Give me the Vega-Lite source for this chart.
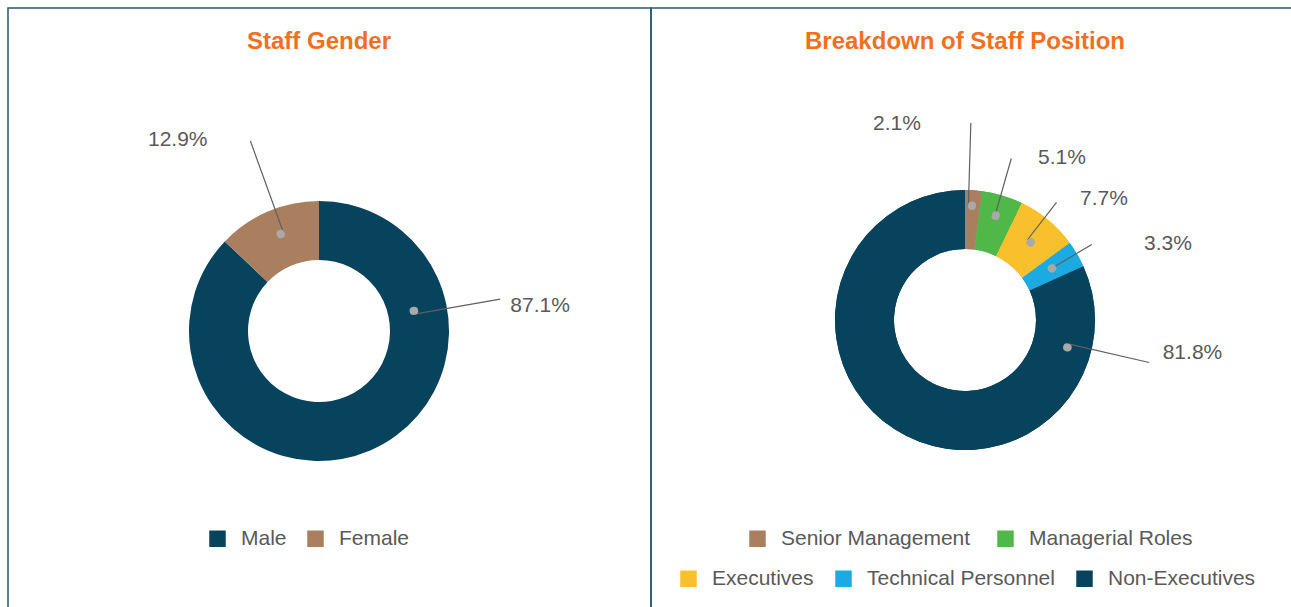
{
  "$schema": "https://vega.github.io/schema/vega-lite/v6.json",
  "background": "white",
  "padding": {"left": 7, "top": 7, "right": 0, "bottom": 0},
  "spacing": 0,
  "bounds": "flush",
  "config": {
    "font": "Liberation Sans",
    "view": {"stroke": "#285873", "strokeWidth": 1.5},
    "title": {"color": "#F07021", "fontSize": 24, "fontWeight": "bold", "font": "Liberation Sans", "anchor": "middle", "frame": "group"},
    "legend": {"symbolType": "square", "symbolSize": 272, "symbolStrokeWidth": 0, "labelFontSize": 21, "labelColor": "#595959", "labelFont": "Liberation Sans", "labelOffset": 13, "columnPadding": 18, "padding": 0, "labelLimit": 400}
  },
  "hconcat": [
    {
      "width": 643,
      "height": 600,
      "view": {"stroke": "#285873", "strokeWidth": 1.5},
      "title": {"text": "Staff Gender", "offset": -46, "dx": -10.5},
      "data": {"values": [
        {"category": "Male", "share": 0.871, "rank": 1},
        {"category": "Female", "share": 0.129, "rank": 2}
      ]},
      "layer": [
        {
          "mark": {"type": "arc", "x": 311, "y": 323, "innerRadius": 71, "outerRadius": 130},
          "encoding": {
            "theta": {"field": "share", "type": "quantitative", "stack": true},
            "order": {"field": "rank", "type": "quantitative"},
            "color": {"field": "category", "type": "nominal",
              "scale": {"domain": ["Male", "Female"], "range": ["#07435C", "#A97F60"]},
              "legend": {"orient": "none", "legendX": 199, "legendY": 520, "direction": "horizontal", "columns": 2, "title": null}}
          }
        },
        {
          "mark": {"type": "arc", "x": 311, "y": 323, "innerRadius": 97, "outerRadius": 184, "thetaOffset": -4.076387, "theta2Offset": -4.076387, "filled": false, "color": "#606060", "strokeWidth": 1.2},
          "encoding": {
            "theta": {"field": "share", "type": "quantitative", "stack": null},
            "theta2": {"field": "share"},
            "opacity": {"condition": {"test": "datum.category === 'Male'", "value": 1}, "value": 0}
          }
        },
        {
          "mark": {"type": "arc", "x": 311, "y": 323, "innerRadius": 104, "outerRadius": 202, "thetaOffset": -1.156978, "theta2Offset": -1.156978, "filled": false, "color": "#606060", "strokeWidth": 1.2},
          "encoding": {
            "theta": {"field": "share", "type": "quantitative", "stack": null},
            "theta2": {"field": "share"},
            "opacity": {"condition": {"test": "datum.category === 'Female'", "value": 1}, "value": 0}
          }
        },
        {
          "mark": {"type": "arc", "x": 311, "y": 323, "innerRadius": 96.7, "outerRadius": 97.3, "thetaOffset": -4.111293, "theta2Offset": -4.111293, "filled": false, "color": "#A9A9A9", "strokeWidth": 8, "strokeCap": "round", "strokeJoin": "round"},
          "encoding": {
            "theta": {"field": "share", "type": "quantitative", "stack": null},
            "theta2": {"field": "share"},
            "opacity": {"condition": {"test": "datum.category === 'Male'", "value": 1}, "value": 0}
          }
        },
        {
          "mark": {"type": "arc", "x": 311, "y": 323, "innerRadius": 104, "outerRadius": 104.6, "thetaOffset": -1.185777, "theta2Offset": -1.185777, "filled": false, "color": "#A9A9A9", "strokeWidth": 8, "strokeCap": "round", "strokeJoin": "round"},
          "encoding": {
            "theta": {"field": "share", "type": "quantitative", "stack": null},
            "theta2": {"field": "share"},
            "opacity": {"condition": {"test": "datum.category === 'Female'", "value": 1}, "value": 0}
          }
        },
        {
          "mark": {"type": "text", "x": 311, "y": 323, "radius": 193, "thetaOffset": -1.2964, "align": "left", "baseline": "middle", "fontSize": 21, "color": "#595959"},
          "encoding": {
            "theta": {"field": "share", "type": "quantitative", "stack": true},
            "order": {"field": "rank", "type": "quantitative"},
            "detail": {"field": "category", "type": "nominal"},
            "text": {"condition": {"test": "datum.category === 'Male'", "field": "share", "type": "quantitative", "format": ".1%"}, "value": ""}
          }
        },
        {
          "mark": {"type": "text", "x": 311, "y": 323, "radius": 221, "thetaOffset": -0.1236, "align": "right", "baseline": "middle", "fontSize": 21, "color": "#595959"},
          "encoding": {
            "theta": {"field": "share", "type": "quantitative", "stack": true},
            "order": {"field": "rank", "type": "quantitative"},
            "detail": {"field": "category", "type": "nominal"},
            "text": {"condition": {"test": "datum.category === 'Female'", "field": "share", "type": "quantitative", "format": ".1%"}, "value": ""}
          }
        }
      ]
    },
    {
      "width": 641,
      "height": 600,
      "view": {"stroke": "#285873", "strokeWidth": 1.5},
      "title": {"text": "Breakdown of Staff Position", "offset": -46, "dx": -6.5},
      "data": {"values": [
        {"category": "Senior Management", "share": 0.021, "rank": 1},
        {"category": "Managerial Roles", "share": 0.051, "rank": 2},
        {"category": "Executives", "share": 0.077, "rank": 3},
        {"category": "Technical Personnel", "share": 0.033, "rank": 4},
        {"category": "Non-Executives", "share": 0.818, "rank": 5}
      ]},
      "resolve": {"scale": {"color": "independent"}, "legend": {"color": "independent"}},
      "layer": [
        {
          "mark": {"type": "arc", "x": 314, "y": 312, "innerRadius": 71, "outerRadius": 130},
          "encoding": {
            "theta": {"field": "share", "type": "quantitative", "stack": true},
            "order": {"field": "rank", "type": "quantitative"},
            "color": {"field": "category", "type": "nominal",
              "scale": {"domain": ["Senior Management", "Managerial Roles", "Executives", "Technical Personnel", "Non-Executives"], "range": ["#A97F60", "#50B848", "#F8C02C", "#1BABE2", "#07435C"]},
              "legend": {"orient": "none", "legendX": 96, "legendY": 520, "direction": "horizontal", "columns": 2, "columnPadding": 24, "title": null, "values": ["Senior Management", "Managerial Roles"]}}
          }
        },
        {
          "mark": {"type": "arc", "x": 314, "y": 312, "innerRadius": 71, "outerRadius": 130},
          "encoding": {
            "theta": {"field": "share", "type": "quantitative", "stack": true},
            "order": {"field": "rank", "type": "quantitative"},
            "color": {"field": "category", "type": "nominal",
              "scale": {"domain": ["Senior Management", "Managerial Roles", "Executives", "Technical Personnel", "Non-Executives"], "range": ["#A97F60", "#50B848", "#F8C02C", "#1BABE2", "#07435C"]},
              "legend": {"orient": "none", "legendX": 27, "legendY": 560, "direction": "horizontal", "columns": 3, "columnPadding": 19, "title": null, "values": ["Executives", "Technical Personnel", "Non-Executives"]}}
          }
        },
        {
          "mark": {"type": "arc", "x": 314, "y": 312, "innerRadius": 114.5, "outerRadius": 197, "thetaOffset": -0.102276, "theta2Offset": -0.102276, "filled": false, "color": "#606060", "strokeWidth": 1.2},
          "encoding": {
            "theta": {"field": "share", "type": "quantitative", "stack": null},
            "theta2": {"field": "share"},
            "opacity": {"condition": {"test": "datum.category === 'Senior Management'", "value": 1}, "value": 0}
          }
        },
        {
          "mark": {"type": "arc", "x": 314, "y": 312, "innerRadius": 108.7, "outerRadius": 168, "thetaOffset": -0.041189, "theta2Offset": -0.041189, "filled": false, "color": "#606060", "strokeWidth": 1.2},
          "encoding": {
            "theta": {"field": "share", "type": "quantitative", "stack": null},
            "theta2": {"field": "share"},
            "opacity": {"condition": {"test": "datum.category === 'Managerial Roles'", "value": 1}, "value": 0}
          }
        },
        {
          "mark": {"type": "arc", "x": 314, "y": 312, "innerRadius": 101.7, "outerRadius": 149, "thetaOffset": 0.177674, "theta2Offset": 0.177674, "filled": false, "color": "#606060", "strokeWidth": 1.2},
          "encoding": {
            "theta": {"field": "share", "type": "quantitative", "stack": null},
            "theta2": {"field": "share"},
            "opacity": {"condition": {"test": "datum.category === 'Executives'", "value": 1}, "value": 0}
          }
        },
        {
          "mark": {"type": "arc", "x": 314, "y": 312, "innerRadius": 101.2, "outerRadius": 147.6, "thetaOffset": 0.825891, "theta2Offset": 0.825891, "filled": false, "color": "#606060", "strokeWidth": 1.2},
          "encoding": {
            "theta": {"field": "share", "type": "quantitative", "stack": null},
            "theta2": {"field": "share"},
            "opacity": {"condition": {"test": "datum.category === 'Technical Personnel'", "value": 1}, "value": 0}
          }
        },
        {
          "mark": {"type": "arc", "x": 314, "y": 312, "innerRadius": 106, "outerRadius": 189, "thetaOffset": -3.341956, "theta2Offset": -3.341956, "filled": false, "color": "#606060", "strokeWidth": 1.2},
          "encoding": {
            "theta": {"field": "share", "type": "quantitative", "stack": null},
            "theta2": {"field": "share"},
            "opacity": {"condition": {"test": "datum.category === 'Non-Executives'", "value": 1}, "value": 0}
          }
        },
        {
          "mark": {"type": "arc", "x": 314, "y": 312, "innerRadius": 114.2, "outerRadius": 114.8, "thetaOffset": -0.07086, "theta2Offset": -0.07086, "filled": false, "color": "#A9A9A9", "strokeWidth": 8, "strokeCap": "round", "strokeJoin": "round"},
          "encoding": {
            "theta": {"field": "share", "type": "quantitative", "stack": null},
            "theta2": {"field": "share"},
            "opacity": {"condition": {"test": "datum.category === 'Senior Management'", "value": 1}, "value": 0}
          }
        },
        {
          "mark": {"type": "arc", "x": 314, "y": 312, "innerRadius": 108.4, "outerRadius": 109, "thetaOffset": -0.034208, "theta2Offset": -0.034208, "filled": false, "color": "#A9A9A9", "strokeWidth": 8, "strokeCap": "round", "strokeJoin": "round"},
          "encoding": {
            "theta": {"field": "share", "type": "quantitative", "stack": null},
            "theta2": {"field": "share"},
            "opacity": {"condition": {"test": "datum.category === 'Managerial Roles'", "value": 1}, "value": 0}
          }
        },
        {
          "mark": {"type": "arc", "x": 314, "y": 312, "innerRadius": 101.4, "outerRadius": 102, "thetaOffset": 0.217817, "theta2Offset": 0.217817, "filled": false, "color": "#A9A9A9", "strokeWidth": 8, "strokeCap": "round", "strokeJoin": "round"},
          "encoding": {
            "theta": {"field": "share", "type": "quantitative", "stack": null},
            "theta2": {"field": "share"},
            "opacity": {"condition": {"test": "datum.category === 'Executives'", "value": 1}, "value": 0}
          }
        },
        {
          "mark": {"type": "arc", "x": 314, "y": 312, "innerRadius": 100.9, "outerRadius": 101.5, "thetaOffset": 0.827636, "theta2Offset": 0.827636, "filled": false, "color": "#A9A9A9", "strokeWidth": 8, "strokeCap": "round", "strokeJoin": "round"},
          "encoding": {
            "theta": {"field": "share", "type": "quantitative", "stack": null},
            "theta2": {"field": "share"},
            "opacity": {"condition": {"test": "datum.category === 'Technical Personnel'", "value": 1}, "value": 0}
          }
        },
        {
          "mark": {"type": "arc", "x": 314, "y": 312, "innerRadius": 105.7, "outerRadius": 106.3, "thetaOffset": -3.307049, "theta2Offset": -3.307049, "filled": false, "color": "#A9A9A9", "strokeWidth": 8, "strokeCap": "round", "strokeJoin": "round"},
          "encoding": {
            "theta": {"field": "share", "type": "quantitative", "stack": null},
            "theta2": {"field": "share"},
            "opacity": {"condition": {"test": "datum.category === 'Non-Executives'", "value": 1}, "value": 0}
          }
        },
        {
          "mark": {"type": "text", "x": 314, "y": 312, "radius": 201, "thetaOffset": -0.286757, "align": "right", "baseline": "middle", "fontSize": 21, "color": "#595959"},
          "encoding": {
            "theta": {"field": "share", "type": "quantitative", "stack": true},
            "order": {"field": "rank", "type": "quantitative"},
            "detail": {"field": "category", "type": "nominal"},
            "text": {"condition": {"test": "datum.category === 'Senior Management'", "field": "share", "type": "quantitative", "format": ".1%"}, "value": ""}
          }
        },
        {
          "mark": {"type": "text", "x": 314, "y": 312, "radius": 177.4, "thetaOffset": 0.131947, "align": "left", "baseline": "middle", "fontSize": 21, "color": "#595959"},
          "encoding": {
            "theta": {"field": "share", "type": "quantitative", "stack": true},
            "order": {"field": "rank", "type": "quantitative"},
            "detail": {"field": "category", "type": "nominal"},
            "text": {"condition": {"test": "datum.category === 'Managerial Roles'", "field": "share", "type": "quantitative", "format": ".1%"}, "value": ""}
          }
        },
        {
          "mark": {"type": "text", "x": 314, "y": 312, "radius": 167, "thetaOffset": 0.064926, "align": "left", "baseline": "middle", "fontSize": 21, "color": "#595959"},
          "encoding": {
            "theta": {"field": "share", "type": "quantitative", "stack": true},
            "order": {"field": "rank", "type": "quantitative"},
            "detail": {"field": "category", "type": "nominal"},
            "text": {"condition": {"test": "datum.category === 'Executives'", "field": "share", "type": "quantitative", "format": ".1%"}, "value": ""}
          }
        },
        {
          "mark": {"type": "text", "x": 314, "y": 312, "radius": 194.5, "thetaOffset": 0.129503, "align": "left", "baseline": "middle", "fontSize": 21, "color": "#595959"},
          "encoding": {
            "theta": {"field": "share", "type": "quantitative", "stack": true},
            "order": {"field": "rank", "type": "quantitative"},
            "detail": {"field": "category", "type": "nominal"},
            "text": {"condition": {"test": "datum.category === 'Technical Personnel'", "field": "share", "type": "quantitative", "format": ".1%"}, "value": ""}
          }
        },
        {
          "mark": {"type": "text", "x": 314, "y": 312, "radius": 200.5, "thetaOffset": -1.975017, "align": "left", "baseline": "middle", "fontSize": 21, "color": "#595959"},
          "encoding": {
            "theta": {"field": "share", "type": "quantitative", "stack": true},
            "order": {"field": "rank", "type": "quantitative"},
            "detail": {"field": "category", "type": "nominal"},
            "text": {"condition": {"test": "datum.category === 'Non-Executives'", "field": "share", "type": "quantitative", "format": ".1%"}, "value": ""}
          }
        }
      ]
    }
  ]
}
